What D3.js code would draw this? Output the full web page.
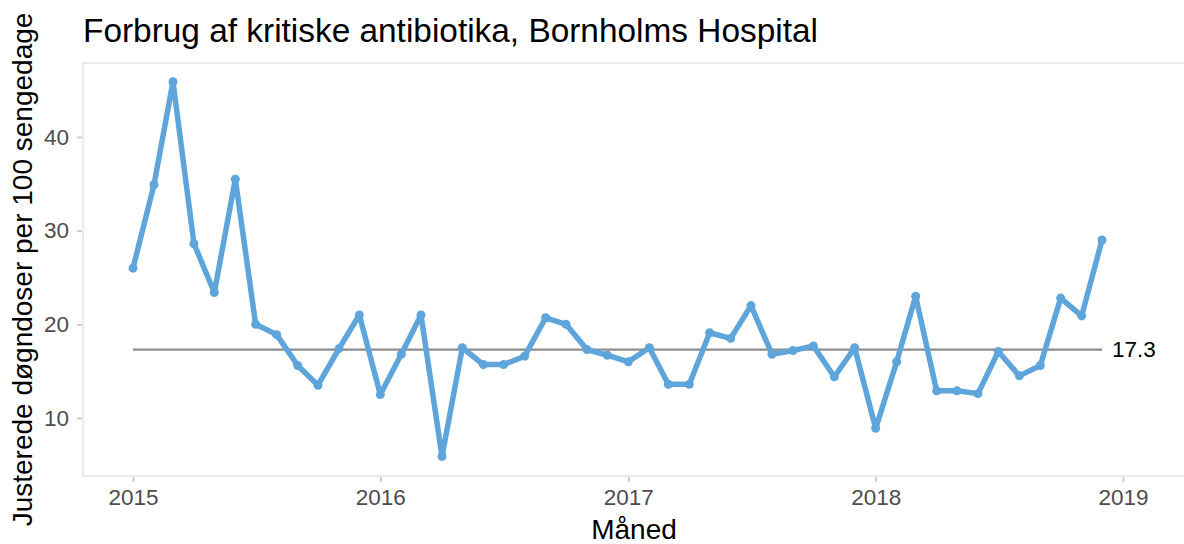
<!DOCTYPE html>
<html>
<head>
<meta charset="utf-8">
<script src="https://cdn.jsdelivr.net/npm/d3@7"></script>
<style>
  body { margin: 0; background: #fff; }
  text { font-family: "Liberation Sans", Arial, sans-serif; }
</style>
</head>
<body>
<div id="chart"></div>
<script>
const svgWidth = 1184;
const svgHeight = 544;

// monthly values, Jan 2015 - Dec 2018
const months = d3.timeMonths(new Date(2015, 0, 1), new Date(2019, 0, 1));
const values = [
  26.0, 34.9, 45.9, 28.6, 23.4, 35.5, 20.0, 18.9, 15.6, 13.5, 17.4, 21.0,
  12.5, 16.8, 21.0, 5.9, 17.5, 15.7, 15.7, 16.6, 20.7, 20.0, 17.3, 16.7,
  16.0, 17.5, 13.6, 13.6, 19.1, 18.5, 22.0, 16.8, 17.2, 17.7, 14.4, 17.5,
  8.9, 16.0, 23.0, 12.9, 12.9, 12.6, 17.1, 14.5, 15.6, 22.8, 20.9, 29.0
];
const yTicks = [10, 20, 30, 40];
const xTicks = [2015, 2016, 2017, 2018, 2019];
const meanValue = 17.3;

const title = "Forbrug af kritiske antibiotika, Bornholms Hospital";
const yTitle = "Justerede døgndoser per 100 sengedage";
const xTitle = "Måned";

const margin = { top: 63, right: -10, bottom: 68, left: 83 };
const width = svgWidth - margin.left - margin.right;
const height = svgHeight - margin.top - margin.bottom;

const data = months.map((m, i) => ({ date: m, value: values[i] }));

const svg = d3.select("#chart")
  .append("svg")
  .attr("width", svgWidth)
  .attr("height", svgHeight);

const chartGroup = svg.append("g")
  .attr("transform", `translate(${margin.left}, ${margin.top})`);

const xScale = d3.scaleTime()
  .domain([new Date(2015, 0, 1), new Date(2019, 0, 1)])
  .range([50, 1040]);

const yScale = d3.scaleLinear()
  .domain([10, 40])
  .range([355, 74]);

// panel border
chartGroup.append("rect")
  .attr("x", 0)
  .attr("y", 0)
  .attr("width", width)
  .attr("height", height)
  .attr("fill", "none")
  .attr("stroke", "#ebebeb")
  .attr("stroke-width", 2);

const bottomAxis = d3.axisBottom(xScale)
  .tickValues(xTicks.map(y => new Date(y, 0, 1)))
  .tickFormat(d3.timeFormat("%Y"))
  .tickSize(5)
  .tickPadding(7);

const leftAxis = d3.axisLeft(yScale)
  .tickValues(yTicks)
  .tickSize(5)
  .tickPadding(8);

const xAxisG = chartGroup.append("g")
  .attr("transform", `translate(0, ${height + 1})`)
  .call(bottomAxis);

const yAxisG = chartGroup.append("g")
  .attr("transform", "translate(-1, 0)")
  .call(leftAxis);

[xAxisG, yAxisG].forEach(g => {
  g.select(".domain").remove();
  g.selectAll(".tick line").attr("stroke", "#cccccc").attr("stroke-width", 2);
  g.selectAll(".tick text")
    .attr("fill", "#4d4d4d")
    .attr("font-size", 22.5)
    .attr("font-family", "Liberation Sans, Arial, sans-serif");
});

// mean line
const firstDate = months[0];
const lastDate = months[months.length - 1];
chartGroup.append("line")
  .attr("x1", xScale(firstDate))
  .attr("x2", xScale(lastDate))
  .attr("y1", yScale(meanValue))
  .attr("y2", yScale(meanValue))
  .attr("stroke", "#8c8c8c")
  .attr("stroke-width", 2.2);

chartGroup.append("text")
  .attr("x", xScale(lastDate) + 10)
  .attr("y", yScale(meanValue))
  .attr("dy", "0.35em")
  .attr("font-size", 22.5)
  .attr("fill", "#000")
  .text(meanValue.toFixed(1));

const line = d3.line()
  .x(d => xScale(d.date))
  .y(d => yScale(d.value));

chartGroup.append("path")
  .datum(data)
  .attr("d", line)
  .attr("fill", "none")
  .attr("stroke", "#5DA5DA")
  .attr("stroke-width", 5.5)
  .attr("stroke-linejoin", "round");

chartGroup.selectAll("circle")
  .data(data)
  .enter()
  .append("circle")
  .attr("cx", d => xScale(d.date))
  .attr("cy", d => yScale(d.value))
  .attr("r", 4.5)
  .attr("fill", "#5DA5DA");

svg.append("text")
  .attr("x", margin.left)
  .attr("y", 42)
  .attr("font-size", 33.4)
  .attr("fill", "#000")
  .text(title);

svg.append("text")
  .attr("transform", "rotate(-90)")
  .attr("x", -(margin.top + height / 2))
  .attr("y", 32)
  .attr("text-anchor", "middle")
  .attr("font-size", 28)
  .attr("fill", "#000")
  .text(yTitle);

svg.append("text")
  .attr("x", 634)
  .attr("y", 539)
  .attr("text-anchor", "middle")
  .attr("font-size", 28)
  .attr("fill", "#000")
  .text(xTitle);
</script>
</body>
</html>
